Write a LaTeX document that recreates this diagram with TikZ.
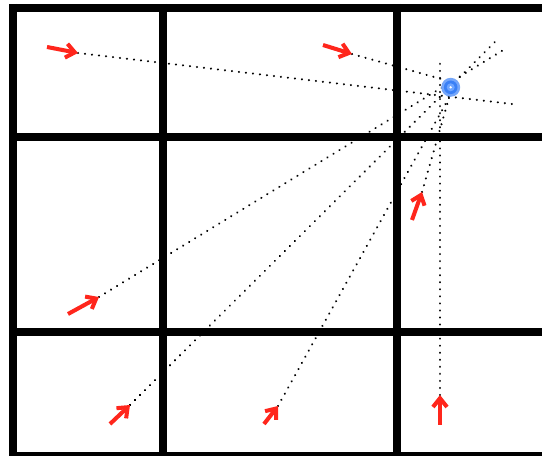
\documentclass[tikz,border=0pt]{standalone}
\usetikzlibrary{arrows.meta}
\usepackage{xcolor}
\definecolor{arrowred}{RGB}{255, 38, 28}
\definecolor{markerblue}{RGB}{58, 128, 246}
\definecolor{markerring}{RGB}{110, 165, 255}

\begin{document}
\begin{tikzpicture}[x=0.02cm, y=-0.02cm,
    wall/.style={line width=4.6pt, black},
    ray/.style={line width=1.3pt, dash pattern=on 0.01pt off 4pt, line cap=round},
    dirarrow/.style={-{Straight Barb[length=5pt, width=8pt]}, line width=2.3pt, arrowred}]
    \useasboundingbox (0,0) rectangle (542,456);

    \draw[wall] (9,8) -- (560,8);
    \draw[wall] (9,137) -- (560,137);
    \draw[wall] (9,332) -- (560,332);
    \draw[wall] (9,456) -- (560,456);
    \draw[wall] (13,4) -- (13,470);
    \draw[wall] (163,4) -- (163,470);
    \draw[wall] (397,4) -- (397,470);

    \coordinate (tipa) at (78,53);   \coordinate (enda) at (512,104);  \coordinate (taila) at (47,47);
    \coordinate (tipb) at (352,54);  \coordinate (endb) at (452,82);   \coordinate (tailb) at (323,45);
    \coordinate (tipc) at (99,297);  \coordinate (endc) at (505,49);   \coordinate (tailc) at (68,314);
    \coordinate (tipd) at (130,405); \coordinate (endd) at (498,39);   \coordinate (taild) at (110,424);
    \coordinate (tipe) at (278,406); \coordinate (ende) at (450,96);   \coordinate (taile) at (264,424);
    \coordinate (tipf) at (422,192); \coordinate (endf) at (449,98);   \coordinate (tailf) at (412,220);
    \coordinate (tipg) at (440,395); \coordinate (endg) at (440,62);   \coordinate (tailg) at (440,425);

    \foreach \r in {a,b,c,d,e,f,g} {
        \draw[ray] (tip\r) -- (end\r);
    }

    \node[circle, fill=markerblue!70, minimum size=19*0.02cm, inner sep=0pt] (source) at (450.7,87.3) {};
    \fill[markerblue] (source.center) circle (6.8);
    \fill[markerring] (source.center) circle (4);
    \fill[white] (source.center) circle (1.3);

    \foreach \r in {a,b,c,d,e,f,g} {
        \draw[dirarrow] (tail\r) -- (tip\r);
    }
\end{tikzpicture}
\end{document}
